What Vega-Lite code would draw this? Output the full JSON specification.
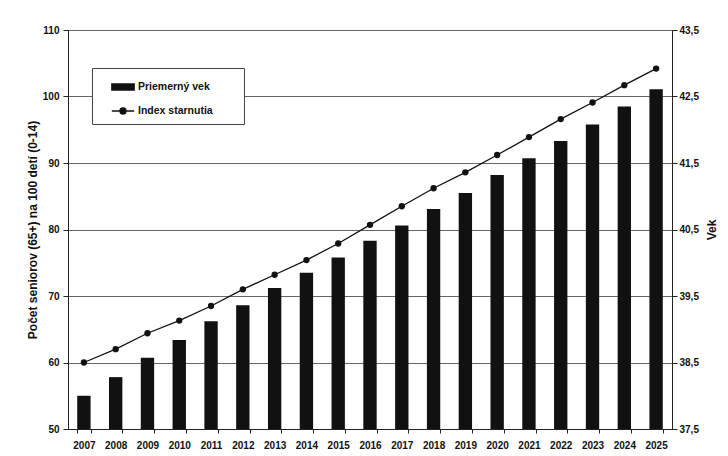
{
  "$schema": "https://vega.github.io/schema/vega-lite/v6.json",
  "width": 604,
  "height": 399,
  "autosize": "none",
  "padding": {"left": 68, "top": 30, "right": 56, "bottom": 27},
  "background": "white",
  "config": {
    "font": "Liberation Sans",
    "view": {"stroke": "#222", "strokeWidth": 1},
    "axis": {
      "labelFont": "Liberation Sans", "labelFontWeight": "bold", "labelFontSize": 10, "labelColor": "#111",
      "titleFont": "Liberation Sans", "titleFontWeight": "bold", "titleFontSize": 12, "titleColor": "#111",
      "domainColor": "#222", "tickColor": "#222"
    }
  },
  "data": {"values": [
    {"rok": "2007", "vek": 38.0, "index": 60.0},
    {"rok": "2008", "vek": 38.28, "index": 62.0},
    {"rok": "2009", "vek": 38.57, "index": 64.4},
    {"rok": "2010", "vek": 38.84, "index": 66.3},
    {"rok": "2011", "vek": 39.12, "index": 68.5},
    {"rok": "2012", "vek": 39.36, "index": 71.0},
    {"rok": "2013", "vek": 39.62, "index": 73.2},
    {"rok": "2014", "vek": 39.85, "index": 75.4},
    {"rok": "2015", "vek": 40.08, "index": 77.9},
    {"rok": "2016", "vek": 40.33, "index": 80.7},
    {"rok": "2017", "vek": 40.56, "index": 83.5},
    {"rok": "2018", "vek": 40.81, "index": 86.2},
    {"rok": "2019", "vek": 41.05, "index": 88.6},
    {"rok": "2020", "vek": 41.32, "index": 91.2},
    {"rok": "2021", "vek": 41.57, "index": 93.9},
    {"rok": "2022", "vek": 41.83, "index": 96.6},
    {"rok": "2023", "vek": 42.08, "index": 99.1},
    {"rok": "2024", "vek": 42.35, "index": 101.7},
    {"rok": "2025", "vek": 42.61, "index": 104.2}
  ]},
  "layer": [
    {
      "mark": {"type": "bar", "clip": true},
      "encoding": {
        "x": {
          "field": "rok", "type": "ordinal",
          "scale": {"paddingInner": 0.58, "paddingOuter": 0.29},
          "axis": {"title": null, "labelAngle": 0, "tickBand": "extent", "tickSize": 4, "labelPadding": 7}
        },
        "y": {
          "field": "vek", "type": "quantitative",
          "scale": {"domain": [37.5, 43.5], "zero": false, "nice": false},
          "axis": {
            "orient": "right", "title": "Vek", "values": [37.5, 38.5, 39.5, 40.5, 41.5, 42.5, 43.5],
            "grid": false, "labelExpr": "replace(format(datum.value, '.1f'), '.', ',')",
            "tickSize": 5, "labelPadding": 2, "titleAngle": 270, "titlePadding": 20
          }
        },
        "y2": {"datum": 37.5},
        "color": {
          "datum": "Priemerný vek", "type": "nominal",
          "scale": {"domain": ["Priemerný vek", "Index starnutia"], "range": ["#111111", "#111111"]},
          "legend": {
            "orient": "none", "legendX": 24, "legendY": 38, "title": null,
            "fillColor": "white", "strokeColor": "#444",
            "padding": 7, "symbolOffset": 12, "symbolSize": 500, "rowPadding": 6, "labelOffset": 3,
            "labelFont": "Liberation Sans", "labelFontSize": 10.5, "labelFontWeight": "bold", "labelColor": "#111",
            "encode": {
              "labels": {
                "update": {
                  "text": {"signal": "datum.label + '\u2800\u2800\u2800'"}
                }
              },
              "symbols": {
                "update": {
                  "shape": {"signal": "datum.value === 'Priemerný vek' ? 'M-1,-0.27H1V0.27H-1Z' : 'M-1,0H1M-0.27,0A0.27,0.27,0,1,0,0.27,0A0.27,0.27,0,1,0,-0.27,0Z'"},
                  "fill": {"value": "#111"},
                  "stroke": {"value": "#111"},
                  "strokeWidth": {"value": 1.3},
                  "opacity": {"value": 1}
                }
              }
            }
          }
        }
      }
    },
    {
      "mark": {"type": "line", "strokeWidth": 1.3, "point": {"filled": true, "size": 40}},
      "encoding": {
        "x": {
          "field": "rok", "type": "ordinal",
          "axis": {"title": null, "labelAngle": 0, "tickBand": "extent", "tickSize": 4, "labelPadding": 7}
        },
        "y": {
          "field": "index", "type": "quantitative",
          "scale": {"domain": [50, 110], "zero": false, "nice": false},
          "axis": {
            "orient": "left", "title": "Počet seniorov (65+) na 100 detí (0-14)",
            "values": [50, 60, 70, 80, 90, 100, 110], "grid": true, "gridColor": "#666", "gridWidth": 1,
            "tickSize": 5, "labelPadding": 4, "titlePadding": 3
          }
        },
        "color": {"datum": "Index starnutia", "type": "nominal"}
      }
    }
  ],
  "resolve": {"scale": {"y": "independent"}}
}
